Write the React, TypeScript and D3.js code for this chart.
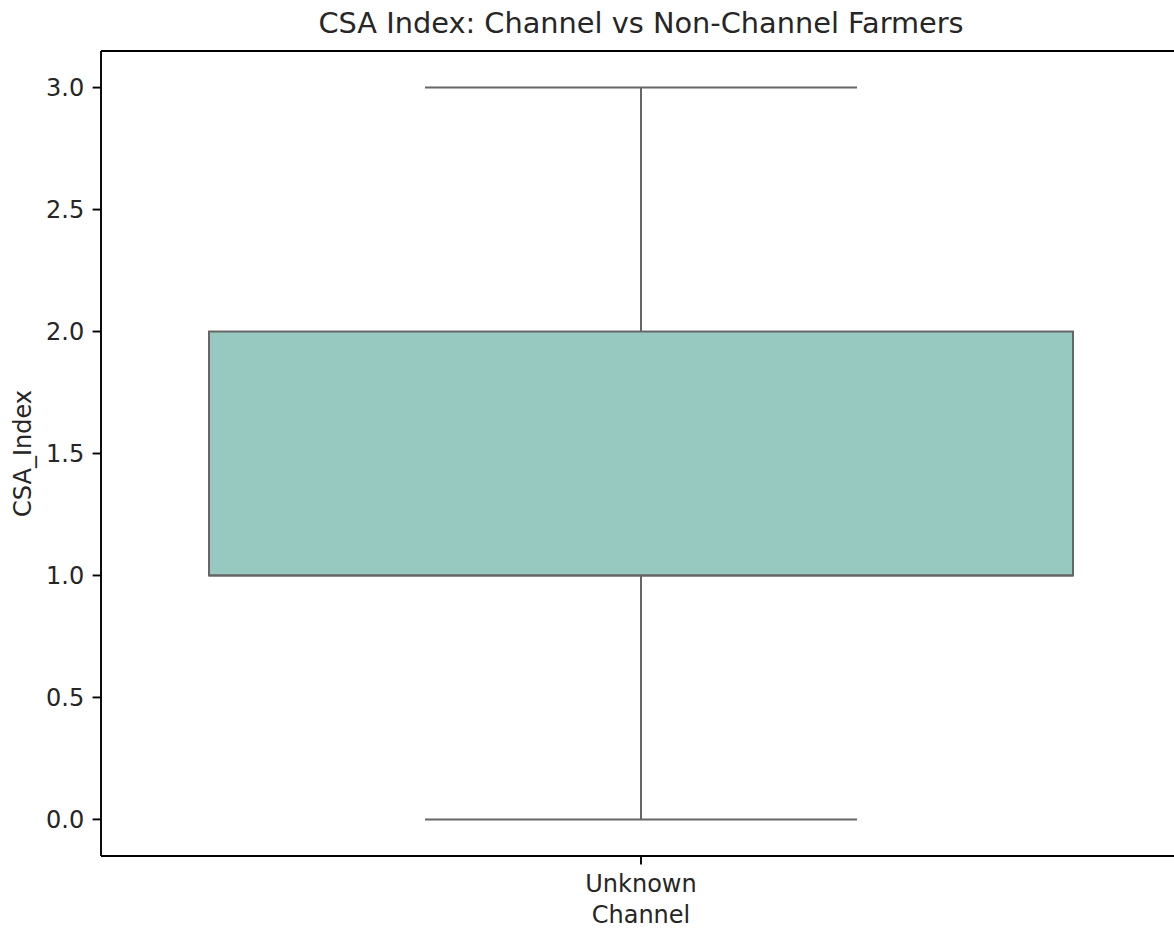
import React from "react";
import * as d3 from "d3";

// Box statistics per channel group
const categories = ["Unknown"];
const whiskerLow = [0];
const q1 = [1];
const median = [1];
const q3 = [2];
const whiskerHigh = [3];
const yTicks = [0, 0.5, 1, 1.5, 2, 2.5, 3];

const W = 1174;
const H = 930;
const FONT = "DejaVu Sans, sans-serif";

export default function App() {
  const left = 101;
  const right = 1181;
  const top = 51;
  const bottom = 856;

  const x = d3.scaleBand<string>().domain(categories).range([left, right]).padding(0);
  const y = d3.scaleLinear().domain([-0.15, 3.15]).range([bottom, top]);

  const boxW = x.bandwidth() * 0.8;
  const capW = boxW / 2;
  const lineColor = "#666666";
  const fill = "#98c9c1";

  return (
    <svg
      width={W}
      height={H}
      style={{ position: "absolute", left: 0, top: 0, background: "#ffffff" }}
      fontFamily={FONT}
    >
      <rect x={0} y={0} width={W} height={H} fill="#ffffff" />

      {categories.map((c, i) => {
        const cx = (x(c) as number) + x.bandwidth() / 2;
        return (
          <g key={c}>
            {/* whiskers */}
            <line x1={cx} x2={cx} y1={y(q3[i])} y2={y(whiskerHigh[i])} stroke={lineColor} strokeWidth={2} />
            <line x1={cx} x2={cx} y1={y(q1[i])} y2={y(whiskerLow[i])} stroke={lineColor} strokeWidth={2} />
            {/* caps */}
            <line x1={cx - capW / 2} x2={cx + capW / 2} y1={y(whiskerHigh[i])} y2={y(whiskerHigh[i])} stroke={lineColor} strokeWidth={2} />
            <line x1={cx - capW / 2} x2={cx + capW / 2} y1={y(whiskerLow[i])} y2={y(whiskerLow[i])} stroke={lineColor} strokeWidth={2} />
            {/* box */}
            <rect
              x={cx - boxW / 2}
              y={y(q3[i])}
              width={boxW}
              height={y(q1[i]) - y(q3[i])}
              fill={fill}
              stroke={lineColor}
              strokeWidth={2}
            />
            {/* median */}
            <line x1={cx - boxW / 2} x2={cx + boxW / 2} y1={y(median[i])} y2={y(median[i])} stroke={lineColor} strokeWidth={2} />
            {/* x tick */}
            <line x1={cx} x2={cx} y1={bottom} y2={bottom + 8.4} stroke="#000" strokeWidth={1.9} />
            <text x={cx} y={891.5} textAnchor="middle" fontSize={24} fill="#262626">
              {c}
            </text>
          </g>
        );
      })}

      {/* y ticks */}
      {yTicks.map((t) => (
        <g key={t}>
          <line x1={left - 8.4} x2={left} y1={y(t)} y2={y(t)} stroke="#000" strokeWidth={1.9} />
          <text x={left - 8.4 - 8.4} y={y(t)} dy="0.35em" textAnchor="end" fontSize={24} fill="#262626">
            {d3.format(".1f")(t)}
          </text>
        </g>
      ))}

      {/* spines */}
      <line x1={left} x2={left} y1={top} y2={bottom} stroke="#000" strokeWidth={1.9} />
      <line x1={left} x2={right} y1={top} y2={top} stroke="#000" strokeWidth={1.9} />
      <line x1={left} x2={right} y1={bottom} y2={bottom} stroke="#000" strokeWidth={1.9} />
      <line x1={right} x2={right} y1={top} y2={bottom} stroke="#000" strokeWidth={1.9} />

      {/* labels */}
      <text x={(left + right) / 2} y={33} textAnchor="middle" fontSize={28.8} fill="#262626">
        CSA Index: Channel vs Non-Channel Farmers
      </text>
      <text x={(left + right) / 2} y={923} textAnchor="middle" fontSize={24} fill="#262626">
        Channel
      </text>
      <text
        transform={`translate(30.5, ${(top + bottom) / 2}) rotate(-90)`}
        textAnchor="middle"
        fontSize={24}
        fill="#262626"
      >
        CSA_Index
      </text>
    </svg>
  );
}
